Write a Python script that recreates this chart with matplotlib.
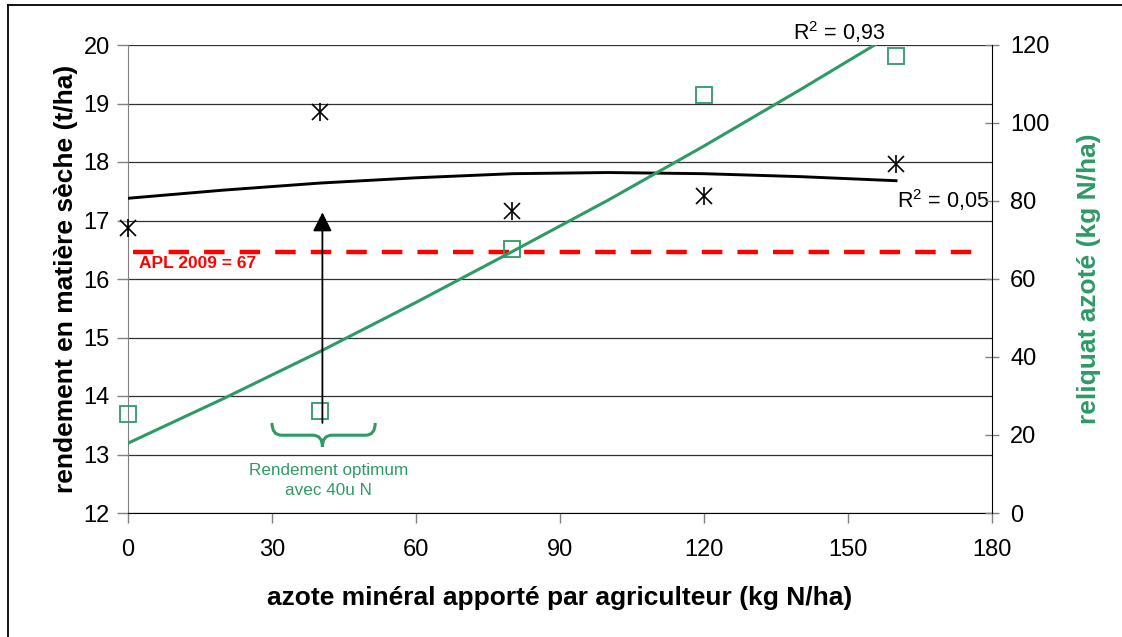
import numpy as np
import matplotlib.pyplot as plt
from matplotlib.path import Path
import matplotlib.patches as patches
from matplotlib.lines import Line2D

plt.rcParams['font.family'] = ['Liberation Sans', 'DejaVu Sans']
plt.rcParams['mathtext.fontset'] = 'custom'
plt.rcParams['mathtext.rm'] = 'Liberation Sans'

# doses d'azote (kg N/ha) et mesures
doses = [0, 40, 80, 120, 160]
rendement = [16.87, 18.85, 17.17, 17.42, 17.97]      # t MS/ha
reliquat = [25.4, 26.2, 67.6, 107.3, 117.2]          # kg N/ha

# courbes de tendance (Excel)
x_tendance = [0, 20, 40, 60, 80, 100, 120, 140, 160]
rendement_tendance = [17.38, 17.52, 17.64, 17.73, 17.80, 17.82, 17.80, 17.75, 17.68]
reliquat_tendance = [17.9, 29.4, 41.4, 54.0, 67.0, 80.2, 94.1, 108.5, 123.3]

apl_2009 = 67
x_ticks = [0, 30, 60, 90, 120, 150, 180]
y_ticks = [12, 13, 14, 15, 16, 17, 18, 19, 20]
y2_ticks = [0, 20, 40, 60, 80, 100, 120]

vert = '#2E9A66'

fig = plt.figure(figsize=(11.22, 6.37), dpi=100)
ax = fig.add_axes([128/1122, 1-513/637, (992-128)/1122, (513-45)/637])
ax2 = ax.twinx()

# axe gauche : rendement
ax.set_xlim(0, 180)
ax.set_ylim(12, 20)
ax.set_xticks(x_ticks)
ax.set_yticks(y_ticks)
ax.grid(axis='y', color='#303030', lw=0.9)
ax.set_axisbelow(True)
for s in ['top', 'right']:
    ax.spines[s].set_visible(False)
ax.spines['left'].set_color('#808080')
ax.spines['bottom'].set_color('black')
ax.tick_params(axis='y', direction='out', length=8, width=1, color='#808080', labelsize=17, pad=5)
ax.tick_params(axis='x', direction='out', length=7, width=1, color='#808080', labelsize=17, pad=12)

ax.plot(x_tendance, rendement_tendance, color='black', lw=2.1, zorder=3)
ax.plot(doses, rendement, ls='none', marker='x', ms=12, mew=1.2, color='black', zorder=4, clip_on=False)
ax.plot(doses, rendement, ls='none', marker='|', ms=13, mew=1.2, color='black', zorder=4, clip_on=False)

ax.set_xlabel('azote minéral apporté par agriculteur (kg N/ha)', fontsize=19, fontweight='bold', labelpad=18)
ax.set_ylabel('rendement en matière sèche (t/ha)', fontsize=19, fontweight='bold', labelpad=4)

# axe droit : reliquat
ax2.set_ylim(0, 120)
ax2.set_yticks(y2_ticks)
for s in ['top', 'left', 'bottom']:
    ax2.spines[s].set_visible(False)
ax2.spines['right'].set_color('black')
ax2.tick_params(axis='y', direction='inout', length=10, width=1, color='#808080', labelsize=17, pad=8)
ax2.set_ylabel('reliquat azoté (kg N/ha)', fontsize=19, fontweight='bold', color=vert, rotation=90, labelpad=20)

ax2.plot(x_tendance, reliquat_tendance, color=vert, lw=2.2, zorder=3)
ax2.plot(doses, reliquat, ls='none', marker='s', ms=11.5, mfc='none', mec=vert, mew=1.3, zorder=4,
         clip_on=False)

ax2.plot([1, 178], [apl_2009, apl_2009], color='red', lw=3.2, ls=(0, (4.6, 3.4)), zorder=2)
ax.text(2.3, 16.27, f'APL 2009 = {apl_2009}', color='red', fontsize=12.5, fontweight='bold', va='center', ha='left')

# flèche : rendement optimum à 40u
ax2.annotate('', xy=(40.5, (17.14 - 12) * 15), xytext=(40.5, (13.54 - 12) * 15),
             arrowprops=dict(arrowstyle='-|>,head_length=0.4,head_width=0.2', mutation_scale=29,
                             color='black', lw=1.3, shrinkA=0, shrinkB=0), zorder=5)

# accolade verte
x0, x1, xm = 30, 51.5, 40.5
yt, yb, yp = 13.54, 13.33, 13.13
verts = [(x0, yt), (x0, yb), (x0 + 2, yb), (xm - 2, yb), (xm, yb), (xm, yp),
         (xm, yb), (xm + 2, yb), (x1 - 2, yb), (x1, yb), (x1, yt)]
codes = [Path.MOVETO, Path.CURVE3, Path.CURVE3, Path.LINETO, Path.CURVE3, Path.CURVE3,
         Path.CURVE3, Path.CURVE3, Path.LINETO, Path.CURVE3, Path.CURVE3]
ax.add_patch(patches.PathPatch(Path(verts, codes), fc='none', ec=vert, lw=2.2, zorder=5))
ax.text(41.7, 12.56, 'Rendement optimum\navec 40u N', color=vert, fontsize=12.3, ha='center', va='center',
        linespacing=1.45)

ax.text(138.5, 20.22, 'R$^2$ = 0,93', fontsize=15.5, ha='left', va='center', clip_on=False)
ax.text(160.2, 17.35, 'R$^2$ = 0,05', fontsize=15.5, ha='left', va='center')

# cadre du graphique
fig.add_artist(Line2D([7.7/1122, 7.7/1122], [0, 1-5/637], color='black', lw=1.3))
fig.add_artist(Line2D([7.7/1122, 1], [1-5/637, 1-5/637], color='black', lw=1.3))

fig.savefig('out.png', dpi=100, facecolor='white')
